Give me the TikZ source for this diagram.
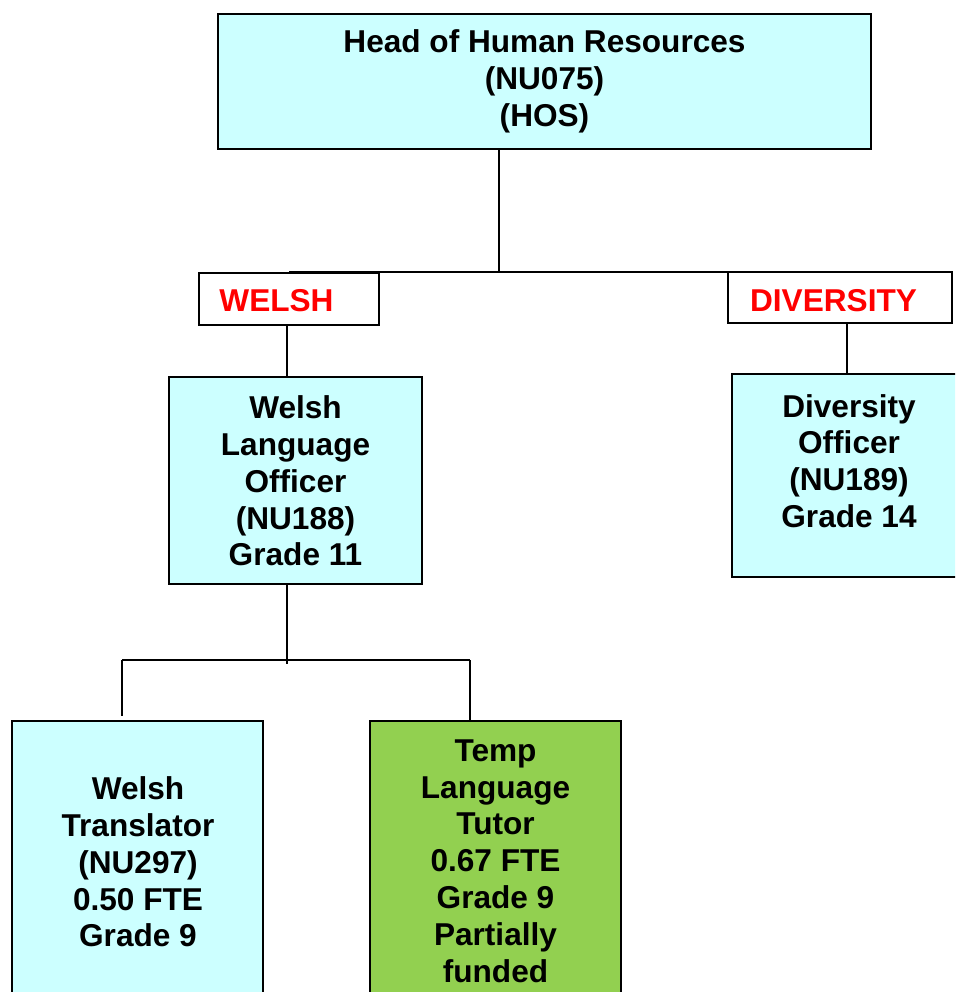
\documentclass[tikz,border=0pt]{standalone}
\usepackage{fontspec}
\setmainfont{Liberation Sans}
\definecolor{boxcyan}{HTML}{CCFFFF}
\definecolor{boxgreen}{HTML}{92D050}
\begin{document}
\begin{tikzpicture}[x=1pt,y=-1pt,
  ln/.style={line width=1.8pt,draw=black},
  postbox/.style={draw=black,line width=1.8pt,fill=boxcyan,inner sep=0pt},
  tempbox/.style={draw=black,line width=1.8pt,fill=boxgreen,inner sep=0pt},
  labbox/.style={draw=black,line width=1.8pt,fill=white,inner sep=0pt},
  txt/.style={align=center,inner sep=0pt,font=\fontsize{31.6}{36.8}\selectfont\bfseries},
  redtxt/.style={txt,text=red}]
\useasboundingbox (0,0) rectangle (955,992);
\clip (0,0) rectangle (955,992);
\fill[white] (0,0) rectangle (955,992);
% boxes
\node[postbox,minimum width=653pt,minimum height=135pt] (top) at (544.5,81.5) {};
\node[txt] (topt) at (544.5,81.5) {Head of Human Resources\\(NU075)\\(HOS)};
\node[labbox,minimum width=180pt,minimum height=52pt] (wl) at (289,299) {};
\node[redtxt] (wlt) at (276.5,301) {WELSH};
\node[labbox,minimum width=224pt,minimum height=51pt] (dl) at (840,297.5) {};
\node[redtxt] (dlt) at (833.5,301) {DIVERSITY};
\node[postbox,minimum width=253pt,minimum height=207pt] (wo) at (295.5,480.5) {};
\node[txt] (wot) at (295.5,481) {Welsh\\Language\\Officer\\(NU188)\\Grade 11};
\node[postbox,minimum width=234pt,minimum height=203pt] (do) at (849,475.5) {};
\node[txt] (dot) at (849,461) {Diversity\\Officer\\(NU189)\\Grade 14};
\node[postbox,minimum width=251pt,minimum height=289pt] (tr) at (137.5,865.5) {};
\node[txt] (trt) at (138,862) {Welsh\\Translator\\(NU297)\\0.50 FTE\\Grade 9};
\node[tempbox,minimum width=251pt,minimum height=289pt] (tt) at (495.5,865.5) {};
\node[txt] (ttt) at (495.5,861) {Temp\\Language\\Tutor\\0.67 FTE\\Grade 9\\Partially\\funded};
% connectors
\coordinate (j1) at (499,273);
\draw[ln] (top.south -| j1) -- (j1);
\draw[ln] (wl.north) -- (wl.north -| dl.west);
\draw[ln] ([xshift=-2pt]wl.south) -- ([xshift=-2pt]wl.south |- wo.north);
\draw[ln] ([xshift=7pt]dl.south) -- ([xshift=7pt]dl.south |- do.north);
\coordinate (j2) at (287,660);
\coordinate (j2e) at (287,664);
\draw[ln] (wo.south -| j2) -- (j2e);
\coordinate (jl) at (122,660);
\coordinate (jr) at (470,660);
\coordinate (jle) at (122,716);
\draw[ln] (jl) -- (jr);
\draw[ln] (jl) -- (jle);
\draw[ln] (jr) -- (jr |- tt.north);
\end{tikzpicture}
\end{document}
